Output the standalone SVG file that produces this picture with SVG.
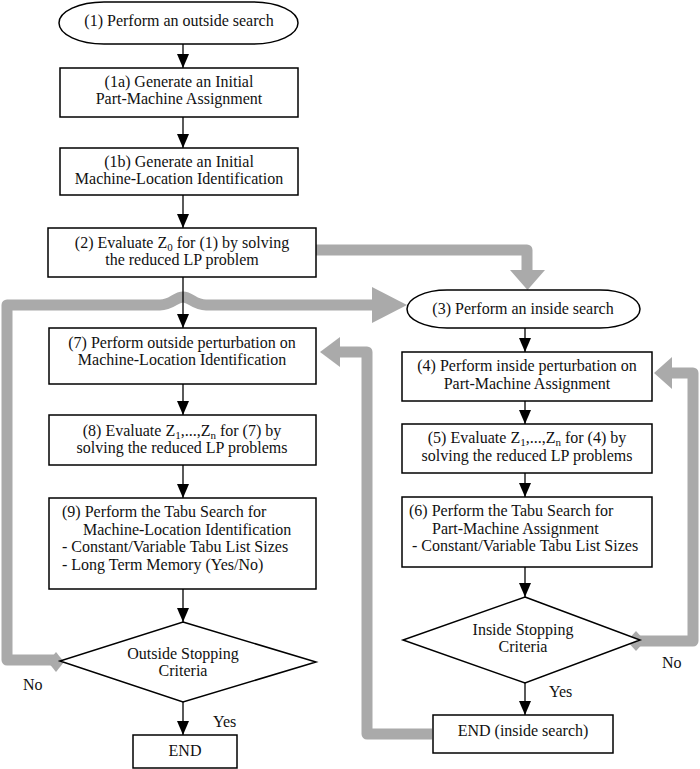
<svg xmlns="http://www.w3.org/2000/svg" width="700" height="769" viewBox="0 0 700 769">
<style>
  .box { fill: #fff; stroke: #000; stroke-width: 1.5; }
  .t { font-family: "Liberation Serif", "Times New Roman", serif; font-size: 16px; fill: #111; }
  .c { text-anchor: middle; }
  .sub { font-size: 11px; }
  .line { stroke: #000; stroke-width: 1.3; fill: none; marker-end: url(#ah); }
  .gray { stroke: #aaa; stroke-width: 11; fill: none; stroke-linejoin: round; }
  .grayf { fill: #aaa; }
</style>
<defs>
  <marker id="ah" viewBox="0 0 14 12" refX="14" refY="6" markerWidth="14" markerHeight="12" markerUnits="userSpaceOnUse" orient="auto">
    <path d="M0,0 L14,6 L0,12 Z" fill="#000"/>
  </marker>
</defs>
<rect width="700" height="769" fill="#fff"/>

<g id="loops">
  <path class="gray" d="M56,660 H7 V305 H160 C172,305 175,297 183,297 C191,297 194,305 206,305 H374"/>
  <path class="grayf" d="M372,287 L407,305 L372,323 Z"/>
  <path class="grayf" d="M48,662 L56,652 L64,662 L56,672 Z"/>
  <path class="gray" d="M316,250 H527 V272"/>
  <path class="grayf" d="M510,270 L545,270 L527.5,290 Z"/>
  <path class="gray" d="M432,734 H367 V352 H338"/>
  <path class="grayf" d="M340,337 L320,352 L340,367 Z"/>
  <path class="gray" d="M636,641 H693 V373 H670"/>
  <path class="grayf" d="M672,357 L654,373 L672,389 Z"/>
  <path class="grayf" d="M627,641 L636,631 L645,641 L636,651 Z"/>
</g>

<g id="n1">
  <rect class="box" x="59" y="2" width="239" height="42" rx="45" ry="21"/>
  <text class="t c" x="179" y="26">(1) Perform an outside search</text>
</g>
<g id="n1a">
  <rect class="box" x="60" y="68" width="238" height="49"/>
  <text class="t c" x="179" y="87">(1a) Generate an Initial</text>
  <text class="t c" x="179" y="104">Part-Machine Assignment</text>
</g>
<g id="n1b">
  <rect class="box" x="60" y="148" width="238" height="47"/>
  <text class="t c" x="179" y="167">(1b) Generate an Initial</text>
  <text class="t c" x="179" y="184">Machine-Location Identification</text>
</g>
<g id="n2">
  <rect class="box" x="48" y="228" width="268" height="49"/>
  <text class="t c" x="182" y="248">(2) Evaluate Z<tspan class="sub" dy="3">0</tspan><tspan dy="-3"> for (1) by solving</tspan></text>
  <text class="t c" x="182" y="265">the reduced LP problem</text>
</g>
<g id="n3">
  <rect class="box" x="407" y="290" width="233" height="38" rx="40" ry="19"/>
  <text class="t c" x="523" y="314">(3) Perform an inside search</text>
</g>
<g id="n4">
  <rect class="box" x="402" y="352" width="250" height="49"/>
  <text class="t c" x="527" y="371">(4) Perform inside perturbation on</text>
  <text class="t c" x="527" y="389">Part-Machine Assignment</text>
</g>
<g id="n5">
  <rect class="box" x="402" y="424" width="250" height="49"/>
  <text class="t c" x="527" y="443">(5) Evaluate Z<tspan class="sub" dy="3">1</tspan><tspan dy="-3">,...,Z</tspan><tspan class="sub" dy="3">n</tspan><tspan dy="-3"> for (4) by</tspan></text>
  <text class="t c" x="527" y="461">solving the reduced LP problems</text>
</g>
<g id="n6">
  <rect class="box" x="402" y="497" width="250" height="70"/>
  <text class="t" x="409" y="516">(6) Perform the Tabu Search for</text>
  <text class="t" x="432" y="534">Part-Machine Assignment</text>
  <text class="t" x="412" y="551">- Constant/Variable Tabu List Sizes</text>
</g>
<g id="nInStop">
  <path class="box" d="M525,597 L640,640 L525,683 L403,640 Z"/>
  <text class="t c" x="523" y="635">Inside Stopping</text>
  <text class="t c" x="523" y="652">Criteria</text>
</g>
<g id="nInEnd">
  <rect class="box" x="433" y="715" width="180" height="38"/>
  <text class="t c" x="523" y="736">END (inside search)</text>
</g>
<g id="n7">
  <rect class="box" x="49" y="328" width="267" height="56"/>
  <text class="t c" x="182" y="348">(7) Perform outside perturbation on</text>
  <text class="t c" x="182" y="365">Machine-Location Identification</text>
</g>
<g id="n8">
  <rect class="box" x="49" y="415" width="267" height="50"/>
  <text class="t c" x="182" y="436">(8) Evaluate Z<tspan class="sub" dy="3">1</tspan><tspan dy="-3">,...,Z</tspan><tspan class="sub" dy="3">n</tspan><tspan dy="-3"> for (7) by</tspan></text>
  <text class="t c" x="182" y="453">solving the reduced LP problems</text>
</g>
<g id="n9">
  <rect class="box" x="49" y="498" width="267" height="91"/>
  <text class="t" x="62" y="517">(9) Perform the Tabu Search for</text>
  <text class="t" x="83" y="535">Machine-Location Identification</text>
  <text class="t" x="62" y="552">- Constant/Variable Tabu List Sizes</text>
  <text class="t" x="62" y="570">- Long Term Memory (Yes/No)</text>
</g>
<g id="nOutStop">
  <path class="box" d="M183,622 L316,662 L183,702 L60,661 Z"/>
  <text class="t c" x="183" y="659">Outside Stopping</text>
  <text class="t c" x="183" y="676">Criteria</text>
</g>
<g id="nEnd">
  <rect class="box" x="133" y="735" width="104" height="33"/>
  <text class="t c" x="185" y="756">END</text>
</g>

<g id="connectors">
  <line class="line" x1="183" y1="44" x2="183" y2="68"/>
  <line class="line" x1="183" y1="117" x2="183" y2="148"/>
  <line class="line" x1="183" y1="195" x2="183" y2="228"/>
  <line class="line" x1="183" y1="277" x2="183" y2="328"/>
  <line class="line" x1="183" y1="384" x2="183" y2="415"/>
  <line class="line" x1="183" y1="465" x2="183" y2="498"/>
  <line class="line" x1="183" y1="589" x2="183" y2="622"/>
  <line class="line" x1="183" y1="702" x2="183" y2="735"/>
  <line class="line" x1="525" y1="328" x2="525" y2="352"/>
  <line class="line" x1="525" y1="401" x2="525" y2="424"/>
  <line class="line" x1="525" y1="473" x2="525" y2="497"/>
  <line class="line" x1="525" y1="567" x2="525" y2="597"/>
  <line class="line" x1="525" y1="683" x2="525" y2="715"/>
</g>

<g id="labels">
  <text class="t" x="23" y="690">No</text>
  <text class="t" x="213" y="727">Yes</text>
  <text class="t" x="662" y="668">No</text>
  <text class="t" x="549" y="697">Yes</text>
</g>
</svg>
